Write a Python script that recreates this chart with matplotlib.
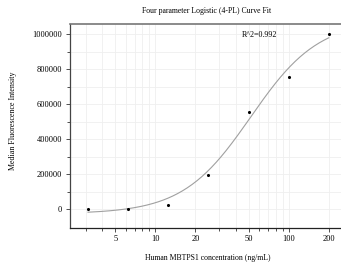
import numpy as np
import matplotlib
matplotlib.use("Agg")
import matplotlib.pyplot as plt
from matplotlib.ticker import FixedLocator, NullFormatter, FuncFormatter

plt.rcParams['font.family'] = ['Liberation Serif', 'DejaVu Serif']

conc = [3.125, 6.25, 12.5, 25, 50, 100, 200]
mfi = [2000, 1500, 26000, 195000, 557000, 757000, 1000000]

# 4PL fit parameters (bottom, top, EC50, hill)
fit_bottom = -25000
fit_top = 1080000
fit_ec50 = 52
fit_hill = 1.7

title = "Four parameter Logistic (4-PL) Curve Fit"
xlabel = "Human MBTPS1 concentration (ng/mL)"
ylabel = "Median Fluorescence Intensity"
r2_text = "R^2=0.992"
xticks_major = [5, 10, 20, 50, 100, 200]
xticks_minor = [3, 4, 6, 7, 8, 9, 30, 40, 60, 70, 80, 90]
yticks_major = [0, 200000, 400000, 600000, 800000, 1000000]
yticks_minor = [100000, 300000, 500000, 700000, 900000]

fig = plt.figure(figsize=(3.41, 2.70), dpi=100)
ax = fig.add_axes([69.5/341, 1 - 227.5/270, (341 - 69.5)/341 + 0.01, (227.5 - 24)/270])

xs = np.logspace(np.log10(conc[0]), np.log10(conc[-1]), 200)
ys = fit_top + (fit_bottom - fit_top) / (1 + (xs / fit_ec50) ** fit_hill)
ax.plot(xs, ys, color='#a0a0a0', lw=0.8, zorder=3)
ax.scatter(conc, mfi, s=5, color='black', zorder=4, linewidths=0)

ax.set_xscale('log')
ax.set_xlim(2.27, 262)
ax.set_ylim(-103000, 1057000)

ax.xaxis.set_major_locator(FixedLocator(xticks_major))
ax.xaxis.set_minor_locator(FixedLocator(xticks_minor))
ax.xaxis.set_major_formatter(FuncFormatter(lambda v, p: f"{v:g}"))
ax.xaxis.set_minor_formatter(NullFormatter())
ax.yaxis.set_major_locator(FixedLocator(yticks_major))
ax.yaxis.set_minor_locator(FixedLocator(yticks_minor))
ax.yaxis.set_major_formatter(FuncFormatter(lambda v, p: f"{int(v)}"))

ax.grid(True, which='both', color='#efefef', lw=0.6, zorder=0)
ax.set_axisbelow(True)

ax.tick_params(which='major', length=3, width=0.6, labelsize=6, pad=2.5, color='#333333')
ax.tick_params(which='minor', length=2, width=0.6, color='#333333')
ax.tick_params(axis='x', which='major', pad=2.5)

ax.spines['left'].set_color('#444444')
ax.spines['left'].set_linewidth(0.9)
ax.spines['bottom'].set_color('#222222')
ax.spines['bottom'].set_linewidth(0.9)
ax.spines['top'].set_color('#777777')
ax.spines['top'].set_linewidth(1.2)
ax.spines['right'].set_visible(False)

ax.text(0.691, 0.946, r2_text, transform=ax.transAxes, fontsize=5.8, ha='center', va='center')

fig.text(207/341, 1 - 11/270, title, fontsize=5.6, ha='center', va='center')
fig.text(207.5/341, 1 - 258/270, xlabel, fontsize=5.6, ha='center', va='center')
fig.text(13.5/341, 1 - 121/270, ylabel, fontsize=5.8, ha='center', va='center', rotation=90)

fig.savefig('out.png', dpi=100)
